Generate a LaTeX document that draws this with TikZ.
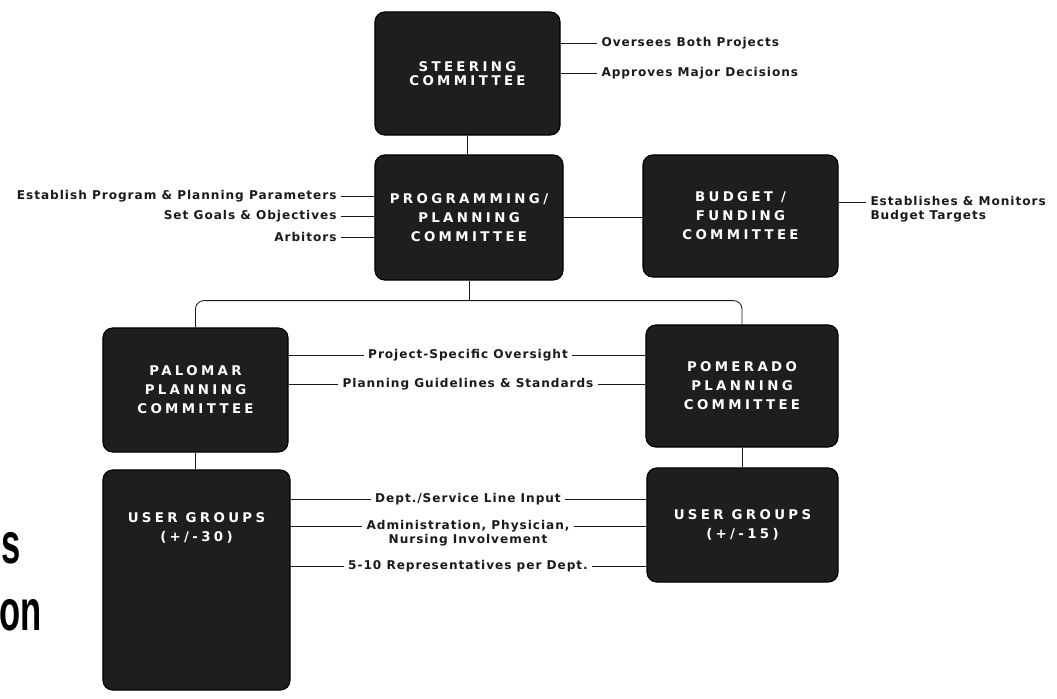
\documentclass[tikz,border=0pt]{standalone}
\usepackage{fontspec}
\usepackage{tikz}
\usetikzlibrary{calc,positioning}
\setmainfont{DejaVu Sans}
\newfontfamily\boxfont[LetterSpace=25]{DejaVu Sans}
\newfontfamily\labfont[LetterSpace=8]{DejaVu Sans}
\newfontfamily\bigfont[FakeStretch=0.6]{Liberation Sans}
\definecolor{ink}{HTML}{1A1A1A}
\definecolor{boxink}{HTML}{1E1E1E}
\tikzset{
  box/.style={draw=black, fill=boxink, line width=0.8pt, rounded corners=7pt, inner sep=0pt,
    text=white, align=center, font=\boxfont\bfseries\fontsize{9.5}{13.5}\selectfont},
  boxtxt/.style={text=white, align=center, inner sep=0pt, font=\boxfont\bfseries\fontsize{9.5}{13.5}\selectfont},
  conn/.style={draw=ink, line width=0.6pt},
  lab/.style={text=ink, inner xsep=3pt, inner ysep=1pt, font=\labfont\bfseries\fontsize{8.6}{9.6}\selectfont},
  big/.style={text=black, inner sep=0pt, font=\bigfont\bfseries\fontsize{41}{41}\selectfont},
}

\begin{document}
\begin{tikzpicture}[x=0.025cm, y=-0.025cm]
  \useasboundingbox (0,0) rectangle (1057,698);
  % committees
  \node[box, minimum width=4.625cm, minimum height=3.075cm] (steer) at (467.5,73.5) {STEERING\\[-3.5pt]COMMITTEE};
  \node[box, minimum width=4.7cm, minimum height=3.125cm] (prog) at (469,217.5) {PROGRAMMING/\\PLANNING\\COMMITTEE};
  \node[box, minimum width=4.875cm, minimum height=3.05cm] (budget) at (740.5,216) {BUDGET /\\FUNDING\\COMMITTEE};
  \node[box, minimum width=4.625cm, minimum height=3.1cm] (pal) at (195.5,390) {PALOMAR\\PLANNING\\COMMITTEE};
  \node[box, minimum width=4.8cm, minimum height=3.05cm] (pom) at (742,386) {POMERADO\\PLANNING\\COMMITTEE};
  \node[box, minimum width=4.675cm, minimum height=5.5cm] (ugpal) at (196.5,580) {};
  \node[boxtxt] (ugpaltxt) at (196.5,528) {USER GROUPS\\(+/-30)};
  \node[box, minimum width=4.775cm, minimum height=2.85cm] (ugpom) at (742.5,525) {USER GROUPS\\(+/-15)};

  % tree
  \coordinate (bus) at ($(prog.south)+(0,20)$);
  \draw[conn] (steer.south) -- (steer.south |- prog.north);
  \draw[conn] (prog.south) -- (bus);
  \draw[conn, rounded corners=6pt] (pal.north) |- (bus) -| (pom.north);
  \draw[conn] (prog.east) -- (prog.east -| budget.west);
  \draw[conn] (pal.south) -- (pal.south |- ugpal.north);
  \draw[conn] (pom.south) -- (pom.south |- ugpom.north);

  % steering notes
  \foreach \y/\txt/\nm in {43/Oversees Both Projects/sa, 73/Approves Major Decisions/sb}{
    \node[lab, anchor=west] (\nm) at (597,\y) {\txt};
    \draw[conn] (\nm.west -| steer.east) -- (\nm.west);
  }
  % programming notes
  \foreach \y/\txt/\nm in {196/Establish Program \& Planning Parameters/pa, 216/Set Goals \& Objectives/pb, 237/Arbitors/pc}{
    \node[lab, anchor=east] (\nm) at (341,\y) {\txt};
    \draw[conn] (\nm.east) -- (\nm.east -| prog.west);
  }
  % budget note
  \node[lab, anchor=north west, align=left] (bt) at (866,195) {Establishes \& Monitors\\Budget Targets};
  \draw[conn] ([yshift=-5pt]bt.north west -| budget.east) -- ([yshift=-5pt]bt.north west);

  % planning notes
  \foreach \y/\txt/\nm in {355/Project-Specific Oversight/ma, 384/Planning Guidelines \& Standards/mb}{
    \node[lab] (\nm) at (468,\y) {\txt};
    \draw[conn] (\nm.west -| pal.east) -- (\nm.west);
    \draw[conn] (\nm.east) -- (\nm.east -| pom.west);
  }

  % user group notes
  \node[lab] (dsl) at (468,499) {Dept./Service Line Input};
  \node[lab, anchor=north, align=center] (adm) at (468,519) {Administration, Physician,\\Nursing Involvement};
  \node[lab] (rep) at (468,566) {5-10 Representatives per Dept.};
  \foreach \nm in {dsl,rep}{
    \draw[conn] (\nm.west -| ugpal.east) -- (\nm.west);
    \draw[conn] (\nm.east) -- (\nm.east -| ugpom.west);
  }
  \draw[conn] ([yshift=-5pt]adm.north west -| ugpal.east) -- ([yshift=-5pt]adm.north west);
  \draw[conn] ([yshift=-5pt]adm.north east) -- ([yshift=-5pt]adm.north east -| ugpom.west);

  % cut-off slide text
  \node[big, anchor=base east] (cuta) at (21,563) {s};
  \node[big, anchor=base east] (cutb) at (42,630) {on};
\end{tikzpicture}
\end{document}
